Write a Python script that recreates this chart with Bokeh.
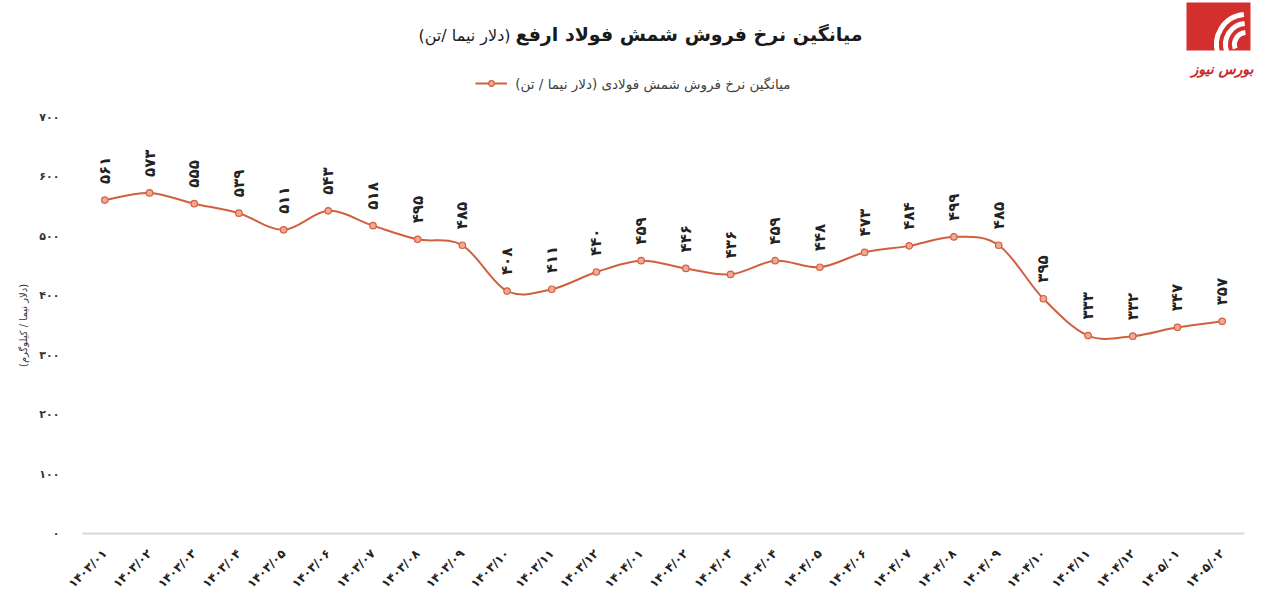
import math
import numpy as np
from bokeh.plotting import figure
from bokeh.models import (Range1d, FixedTicker, Label, Legend, LegendItem,
                          ColumnDataSource, BoxAnnotation)
from bokeh.embed import file_html
from bokeh.resources import INLINE

# ---------------- data ----------------
periods = ["1403/01", "1403/02", "1403/03", "1403/04", "1403/05", "1403/06",
           "1403/07", "1403/08", "1403/09", "1403/10", "1403/11", "1403/12",
           "1404/01", "1404/02", "1404/03", "1404/04", "1404/05", "1404/06",
           "1404/07", "1404/08", "1404/09", "1404/10", "1404/11", "1404/12",
           "1405/01", "1405/02"]
prices = [561, 573, 555, 539, 511, 543, 518, 495, 485, 408, 411, 440,
          459, 446, 436, 459, 448, 473, 484, 499, 485, 395, 333, 332,
          347, 357]
y_ticks = [0, 100, 200, 300, 400, 500, 600, 700]

title_main = "میانگین نرخ فروش شمش فولاد ارفع"
title_unit = "(دلار نیما /تن)"
legend_text = "میانگین نرخ فروش شمش فولادی (دلار نیما / تن)"
y_label = "(دلار نیما / کیلوگرم)"
logo_text = "بورس نیوز"

RLM = "\u200f"
FA = str.maketrans("0123456789", "۰۱۲۳۴۵۶۷۸۹")


def fa(s):
    return str(s).translate(FA)


FONT = "DejaVu Sans"
LINE_C = "#d0603f"
MARK_FILL = "#f2a892"

W, H = 1265, 606
HH = 105                      # header strip (title, legend, logo)
n = len(periods)
Y0, Y1 = 0, 700

# ================= header =================
hdr = figure(width=W, height=HH, output_backend="svg", toolbar_location=None,
             x_range=Range1d(0, W), y_range=Range1d(HH, 0),
             x_axis_type=None, y_axis_type=None,
             min_border_left=0, min_border_right=0,
             min_border_top=0, min_border_bottom=0)
hdr.outline_line_color = None
hdr.grid.visible = False
hdr.background_fill_color = "white"
hdr.border_fill_color = "white"

hdr.add_layout(Label(x=862, y=33, text=title_main, text_align="right",
                     text_baseline="middle", text_font=FONT,
                     text_font_style="bold", text_font_size="19px",
                     text_color="#1a1a1a"))
hdr.add_layout(Label(x=510, y=35, text=RLM + title_unit + RLM,
                     text_align="right", text_baseline="middle",
                     text_font=FONT, text_font_size="16px",
                     text_color="#1a1a1a"))

# legend key proxies (kept outside the visible header range)
key_line = hdr.bezier(x0=[-1000], y0=[-1000], x1=[-990], y1=[-1000],
                      cx0=[-997], cy0=[-1000], cx1=[-993], cy1=[-1000],
                      line_color=LINE_C, line_width=2)
key_mark = hdr.scatter(x=[-1000], y=[-1000], size=6.5, fill_color=MARK_FILL,
                       line_color=LINE_C, line_width=1.2)
leg = Legend(items=[LegendItem(label=" ", renderers=[key_line, key_mark])],
             location=(475, HH - 90), padding=0, margin=0, spacing=0,
             glyph_width=32, glyph_height=14, label_text_font_size="1px",
             label_standoff=0, border_line_color=None,
             background_fill_alpha=0)
hdr.add_layout(leg)
hdr.add_layout(Label(x=790, y=83, text=RLM + legend_text + RLM,
                     text_align="right", text_baseline="middle",
                     text_font=FONT, text_font_size="13.5px",
                     text_color="#404040"))

# logo
hdr.add_layout(BoxAnnotation(left=1186, right=1250, top=2, bottom=50,
                             fill_color="#d32f2f", fill_alpha=1,
                             line_color=None, level="underlay"))
hdr.arc(x=[1246] * 3, y=[44] * 3, radius=[12, 21, 30], radius_units="screen",
        start_angle=math.radians(95), end_angle=math.radians(200),
        direction="anticlock", line_color="white", line_width=5)
hdr.add_layout(Label(x=1222, y=68, text=logo_text, text_align="center",
                     text_baseline="middle", text_font=FONT,
                     text_font_style="bold italic", text_font_size="14px",
                     text_color="#c62828"))

# ================= main chart =================
p = figure(width=W, height=H - HH, output_backend="svg",
           toolbar_location=None,
           x_range=Range1d(-0.5, n - 0.5), y_range=Range1d(Y0, Y1),
           min_border_left=82, min_border_right=21,
           min_border_top=117 - HH, min_border_bottom=73)
p.outline_line_color = None
p.grid.visible = False
p.background_fill_color = "white"
p.border_fill_color = "white"

xa = p.xaxis[0]
xa.ticker = FixedTicker(ticks=list(range(n)))
xa.major_label_overrides = {i: fa(s) for i, s in enumerate(periods)}
xa.major_label_orientation = math.pi / 4
xa.axis_line_color = "#d9d9d9"
xa.axis_line_width = 2
xa.major_tick_line_color = None
xa.minor_tick_line_color = None
xa.major_label_text_font = FONT
xa.major_label_text_font_style = "bold"
xa.major_label_text_font_size = "12px"
xa.major_label_text_color = "#222222"
xa.major_label_standoff = 12

ya = p.yaxis[0]
ya.ticker = FixedTicker(ticks=y_ticks)
ya.major_label_overrides = {v: fa(v) for v in y_ticks}
ya.axis_line_color = None
ya.major_tick_line_color = None
ya.minor_tick_line_color = None
ya.major_label_text_font = FONT
ya.major_label_text_font_style = "bold"
ya.major_label_text_font_size = "11px"
ya.major_label_text_color = "#333333"
ya.major_label_standoff = 17
ya.axis_label = RLM + y_label + RLM
ya.axis_label_text_font = FONT
ya.axis_label_text_font_style = "normal"
ya.axis_label_text_font_size = "10px"
ya.axis_label_text_color = "#333333"
ya.axis_label_standoff = 7

# smooth line (Excel-like smoothing from the data points)
xs = np.arange(n, dtype=float)
ys = np.array(prices, dtype=float)
xp = np.concatenate([[xs[0]], xs, [xs[-1]]])
yp = np.concatenate([[ys[0]], ys, [ys[-1]]])
seg = ColumnDataSource(dict(
    x0=xs[:-1], y0=ys[:-1], x1=xs[1:], y1=ys[1:],
    cx0=xs[:-1] + (xp[2:-1] - xp[:-3]) / 6.0,
    cy0=ys[:-1] + (yp[2:-1] - yp[:-3]) / 6.0,
    cx1=xs[1:] - (xp[3:] - xp[1:-2]) / 6.0,
    cy1=ys[1:] - (yp[3:] - yp[1:-2]) / 6.0,
))
p.bezier(x0="x0", y0="y0", x1="x1", y1="y1", cx0="cx0", cy0="cy0",
         cx1="cx1", cy1="cy1", source=seg, line_color=LINE_C, line_width=2)

pts = ColumnDataSource(dict(x=xs, y=ys, lab=[fa(v) for v in prices]))
p.scatter(x="x", y="y", source=pts, size=6.5, fill_color=MARK_FILL,
          line_color=LINE_C, line_width=1.2)

p.text(x="x", y="y", text="lab", source=pts, angle=math.pi / 2,
       text_align="left", text_baseline="middle", y_offset=-16,
       text_font={"value": FONT}, text_font_style="bold",
       text_font_size="15px", text_color="#222222")

open("out.html", "w").write(file_html([hdr, p], INLINE))
